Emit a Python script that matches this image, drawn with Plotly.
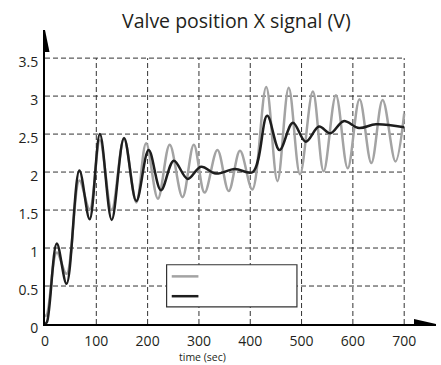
import plotly.graph_objects as go

# time (sec) / value (V), extrema mostly
black_t = [0, 4, 23, 42, 67, 87, 107, 130, 154, 178, 202, 226, 251, 278, 304, 333,
           370, 405, 433, 457, 483, 508, 534, 556, 582, 612, 645, 700]
black_v = [0, 0.03, 1.06, 0.53, 2.02, 1.38, 2.50, 1.37, 2.45, 1.62, 2.29, 1.76, 2.15,
           1.91, 2.07, 1.98, 2.04, 2.00, 2.74, 2.29, 2.65, 2.40, 2.60, 2.51, 2.67, 2.58,
           2.63, 2.59]

gray_t = [0, 4, 23, 42, 67, 87, 107, 130, 154, 178, 197, 220, 243, 268, 290, 311, 336,
          358, 380, 404, 431, 453, 475, 497, 522, 543, 567, 590, 613, 636, 658, 683, 700]
gray_v = [0.10, 0.13, 0.94, 0.66, 1.89, 1.51, 2.42, 1.50, 2.44, 1.60, 2.38, 1.65, 2.36,
          1.67, 2.36, 1.73, 2.29, 1.75, 2.28, 1.77, 3.12, 1.88, 3.11, 1.97, 3.06, 2.01,
          3.01, 2.05, 2.96, 2.12, 2.95, 2.14, 2.77]

x_ticks = [0, 100, 200, 300, 400, 500, 600, 700]
y_ticks = [0, 0.5, 1, 1.5, 2, 2.5, 3, 3.5]

ink = "#231f20"
font = "Open Sans"

fig = go.Figure()
fig.add_trace(go.Scatter(x=gray_t, y=gray_v, mode="lines", line_shape="spline",
                         line=dict(color="#a3a3a3", width=2.5), showlegend=False))
fig.add_trace(go.Scatter(x=black_t, y=black_v, mode="lines", line_shape="spline",
                         line=dict(color="#1e1e1e", width=2.5), showlegend=False))

grid = dict(color="#333333", width=1, dash="5px,3px")
shapes = []
for gx in x_ticks[1:]:
    shapes.append(dict(type="line", x0=gx, x1=gx, y0=0, y1=y_ticks[-1], line=grid, layer="below"))
for gy in y_ticks[1:]:
    shapes.append(dict(type="line", x0=0, x1=x_ticks[-1], y0=gy, y1=gy, line=grid, layer="below"))

# arrow heads
shapes.append(dict(type="path", xsizemode="pixel", ysizemode="pixel", xanchor=762, yanchor=0,
                   path="M-22,-5 L0,0 L-22,5 Z", fillcolor="black", line=dict(width=0)))
shapes.append(dict(type="path", xsizemode="pixel", ysizemode="pixel", xanchor=0, yanchor=3.87,
                   path="M-4.5,-22 L0,0 L4.5,-22 Z", fillcolor="black", line=dict(width=0)))

# legend box without labels
shapes.append(dict(type="rect", x0=237, x1=491, y0=0.225, y1=0.78,
                   fillcolor="white", line=dict(color="#333333", width=1.2)))
shapes.append(dict(type="line", x0=247, x1=299, y0=0.627, y1=0.627,
                   line=dict(color="#a3a3a3", width=2.5)))
shapes.append(dict(type="line", x0=247, x1=299, y0=0.366, y1=0.366,
                   line=dict(color="#1e1e1e", width=2.5)))

fig.update_layout(
    width=441, height=365,
    margin=dict(l=45, r=5, t=30, b=41),
    paper_bgcolor="white", plot_bgcolor="white",
    font=dict(family=font, color=ink, size=14),
    shapes=shapes,
    annotations=[
        dict(text="Valve position X signal (V)", xref="paper", yref="paper",
             x=0.49, y=1.034, xanchor="center", yanchor="middle", showarrow=False,
             font=dict(size=19.5, color=ink)),
        dict(text="time (sec)", xref="x", yref="paper", x=307, y=-0.112,
             xanchor="center", yanchor="middle", showarrow=False,
             font=dict(size=10.5, color=ink)),
    ],
    xaxis=dict(range=[0, 762], tickvals=x_ticks, showgrid=False, zeroline=False,
               showline=True, linecolor="black", linewidth=2, ticks="",
               ticklabelstandoff=3),
    yaxis=dict(range=[0, 3.87], tickvals=y_ticks, ticktext=[str(v) for v in y_ticks],
               showgrid=False, zeroline=False, showline=True, linecolor="black",
               linewidth=2, ticks="", ticklabelstandoff=2, ticklabelshift=4),
)

fig.write_html("out.html", config={"displayModeBar": False},
               post_script="document.body.style.margin='0px';")
